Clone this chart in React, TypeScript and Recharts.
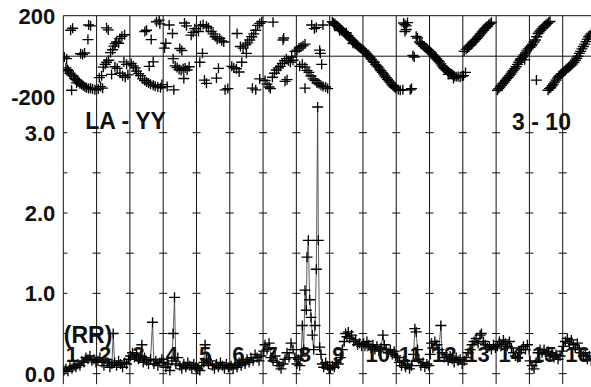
import { ComposedChart, Scatter, Line, XAxis, YAxis, ReferenceLine, ReferenceDot } from 'recharts'

const FONT = '"Liberation Sans", Arial, Helvetica, sans-serif'
const INK = '#111'

// phase in degrees vs time (time in scan units, scan n starts at n-1)
const phasePts: [number, number][] = [
  [0.03, -4], [0.08, -58], [0.12, -66], [0.15, -72], [0.2, -84], [0.24, -92], [0.3, -98], [0.34, -110],
  [0.38, -116], [0.42, -122], [0.47, -128], [0.5, -136], [0.55, -140], [0.6, -146], [0.65, -152], [0.7, -156],
  [0.76, -160], [0.82, -158], [0.88, -162], [0.95, -166], [0.25, -168], [0.22, 128], [0.28, 138], [0.76, 154],
  [0.82, 150], [0.74, 82], [0.52, 12], [0.58, 8], [0.64, 16], [0.1, -12], [0.4, -132],
  [1.05, -162], [1.12, -150], [1.18, -158], [1.08, -106], [1.15, -96], [1.2, -54], [1.26, -40], [1.3, -30],
  [1.36, -20], [1.42, 18], [1.48, 32], [1.52, 50], [1.56, 62], [1.6, 70], [1.66, 64], [1.7, 88], [1.76, 98],
  [1.84, 106], [1.35, 130], [1.3, 140], [1.45, -90], [1.55, -52], [1.62, -60], [1.7, -84], [1.78, -96],
  [1.86, -104], [1.94, -92], [1.82, -28], [1.9, -40],
  [2.04, -36], [2.1, -48], [2.16, -58], [2.2, -74], [2.26, -86], [2.32, -96], [2.38, -112], [2.44, -120],
  [2.5, -128], [2.56, -132], [2.62, -138], [2.7, -144], [2.76, -148], [2.84, -152], [2.92, -156], [2.5, 128],
  [2.45, 122], [2.64, 82], [2.8, 170], [2.88, 178], [2.9, 160], [2.7, -28], [2.58, -50], [2.96, -140],
  [3.08, 64], [3.04, 40], [3.18, 154], [3.28, 112], [3.3, -12], [3.36, -48], [3.42, -56], [3.48, -66],
  [3.54, -70], [3.6, -62], [3.66, -58], [3.72, -68], [3.78, -52], [3.5, 38], [3.56, 28], [3.64, 164],
  [3.7, 150], [3.84, 104], [3.9, 118], [3.95, 136], [3.32, -166], [3.62, -110], [3.12, -150],
  [4.06, 122], [4.12, 150], [4.2, 156], [4.3, 148], [4.36, 140], [4.44, 122], [4.5, 110], [4.56, 96],
  [4.62, 84], [4.7, 88], [4.76, 76], [4.82, 70], [4.18, 14], [4.24, -118], [4.3, -134], [4.66, -60],
  [4.6, -108], [4.86, -166], [4.94, -160], [4.1, -30],
  [5.06, -50], [5.12, -58], [5.2, -62], [5.28, -78], [5.22, 112], [5.32, 48], [5.4, 40], [5.48, 56],
  [5.54, 66], [5.6, 80], [5.66, 96], [5.72, 110], [5.78, 128], [5.84, 152], [5.9, 162], [5.96, 170],
  [5.5, 14], [5.78, -166], [5.68, -158], [5.36, -30], [5.9, -112],
  [6.06, -120], [6.12, -138], [6.18, -152], [6.22, -160], [6.28, -104], [6.34, -84], [6.4, -68], [6.46, -58],
  [6.52, -50], [6.58, -36], [6.64, -22], [6.7, -12], [6.76, -22], [6.82, -30], [6.9, -20], [6.96, 24],
  [6.6, 80], [6.62, 90], [6.3, 168], [6.66, -124], [6.72, -116], [6.86, -4],
  [7.02, 30], [7.08, 40], [7.14, 46], [7.2, 52], [7.26, 60], [7.1, -50], [7.18, -40], [7.26, -54],
  [7.32, -70], [7.38, -80], [7.44, -98], [7.5, -112], [7.56, -120], [7.62, -132], [7.68, -136], [7.74, -144],
  [7.8, -150], [7.88, -152], [7.94, -160], [7.46, 154], [7.54, 136], [7.6, 142], [7.8, 154], [7.72, 14],
  [7.76, -40], [7.26, -158], [7.7, 30],
  [8.08, 170], [8.12, 164], [8.16, 160], [8.2, 152], [8.24, 148], [8.28, 140], [8.32, 134], [8.36, 128],
  [8.4, 122], [8.44, 116], [8.48, 110], [8.52, 104], [8.56, 100], [8.6, 92], [8.64, 84], [8.68, 78],
  [8.72, 70], [8.76, 62], [8.8, 58], [8.84, 52], [8.88, 46], [8.92, 40], [8.96, 36], [8.14, 154],
  [8.3, 126], [8.5, 116], [8.7, 64],
  [9.02, 30], [9.06, 22], [9.1, 14], [9.14, 6], [9.18, 0], [9.22, -8], [9.26, -16], [9.3, -24],
  [9.34, -30], [9.38, -40], [9.42, -48], [9.46, -54], [9.5, -64], [9.54, -72], [9.58, -80], [9.62, -88],
  [9.66, -98], [9.7, -106], [9.74, -114], [9.78, -122], [9.82, -130], [9.86, -138], [9.9, -146], [9.94, -152],
  [9.98, -158], [10.06, -164], [10.12, -168], [10.2, -166], [10.46, -160], [10.42, -166],
  [10.22, 164], [10.26, 156], [10.3, 150], [10.34, 166], [10.26, 122], [10.3, 132], [10.5, 4], [10.54, -4],
  [10.6, 98], [10.64, 90], [10.7, 70], [10.74, 62], [10.78, 58], [10.82, 50], [10.86, 46], [10.9, 40],
  [10.94, 34], [10.98, 28],
  [11.02, 22], [11.06, 16], [11.1, 8], [11.14, 0], [11.18, -8], [11.22, -14], [11.26, -22], [11.3, -28],
  [11.34, -38], [11.38, -48], [11.42, -56], [11.46, -62], [11.5, -68], [11.54, -74], [11.58, -80], [11.62, -84],
  [11.66, -88], [11.7, -92], [11.74, -98], [11.8, -102], [11.86, -100], [11.92, -104], [11.98, -98], [11.56, -90],
  [11.72, -110], [12.02, -96], [12.08, -80],
  [12.04, 24], [12.1, 34], [12.14, 40], [12.18, 48], [12.22, 54], [12.26, 60], [12.3, 68], [12.34, 74],
  [12.38, 82], [12.42, 88], [12.46, 96], [12.5, 104], [12.54, 112], [12.58, 120], [12.62, 128], [12.66, 136],
  [12.7, 142], [12.74, 148], [12.78, 156], [12.82, 162], [12.86, 168],
  [13.04, -168], [13.08, -160], [13.12, -152], [13.16, -144], [13.2, -136], [13.24, -128], [13.28, -120],
  [13.32, -112], [13.36, -104], [13.4, -96], [13.44, -88], [13.48, -78], [13.52, -70], [13.56, -62],
  [13.6, -52], [13.64, -40], [13.68, -30], [13.72, -20], [13.76, -14], [13.8, -4], [13.84, 6], [13.88, 16],
  [13.92, 26], [13.96, 36], [13.74, -12], [13.86, -18],
  [14.02, 44], [14.06, 52], [14.1, 60], [14.14, 70], [14.18, 80], [14.22, 96], [14.26, 112], [14.3, 120],
  [14.34, 128], [14.38, 136], [14.42, 144], [14.46, 150], [14.5, 156], [14.54, 162], [14.58, 168], [14.62, 172],
  [14.21, -118], [14.56, -168], [14.6, -160], [14.64, -156], [14.68, -146], [14.72, -138], [14.76, -128],
  [14.8, -118], [14.84, -108], [14.88, -100], [14.92, -94], [14.96, -86],
  [15.02, -78], [15.06, -72], [15.1, -66], [15.14, -60], [15.18, -54], [15.22, -50], [15.26, -44], [15.3, -38],
  [15.34, -30], [15.38, -20], [15.42, -10], [15.46, 0], [15.5, 14], [15.54, 24], [15.58, 36], [15.62, 48],
  [15.66, 60], [15.7, 72], [15.74, 84], [15.78, 96], [15.82, 104], [15.86, 112], [15.92, 120],
]

// amplitude vs time
const ampPts: [number, number][] = [
  [0.02, 0.04], [0.08, 0.06], [0.14, 0.03], [0.2, 0.08], [0.26, 0.06], [0.32, 0.1], [0.38, 0.08], [0.44, 0.12],
  [0.5, 0.1], [0.56, 0.16], [0.62, 0.14], [0.68, 0.2], [0.74, 0.18], [0.8, 0.22], [0.86, 0.16], [0.92, 0.18],
  [0.98, 0.14],
  [1.04, 0.16], [1.1, 0.2], [1.16, 0.14], [1.22, 0.1], [1.28, 0.18], [1.34, 0.14], [1.4, 0.08], [1.46, 0.12],
  [1.5, 0.5], [1.54, 0.14], [1.6, 0.1], [1.66, 0.16], [1.72, 0.12], [1.78, 0.08], [1.84, 0.14], [1.9, 0.12],
  [1.96, 0.18],
  [2.02, 0.22], [2.08, 0.26], [2.14, 0.2], [2.2, 0.24], [2.26, 0.18], [2.32, 0.22], [2.36, 0.36], [2.4, 0.14],
  [2.44, 0.2], [2.5, 0.16], [2.56, 0.12], [2.62, 0.18], [2.68, 0.64], [2.72, 0.12], [2.78, 0.16], [2.84, 0.1],
  [2.9, 0.14], [2.96, 0.18],
  [3.02, 0.14], [3.08, 0.08], [3.14, 0.12], [3.2, 0.04], [3.26, 0.16], [3.3, 0.5], [3.34, 0.95], [3.38, 0.12],
  [3.44, 0.2], [3.5, 0.1], [3.56, 0.06], [3.62, 0.12], [3.68, 0.08], [3.74, 0.14], [3.8, 0.1], [3.86, 0.06],
  [3.92, 0.12], [3.98, 0.08],
  [4.04, 0.06], [4.1, 0.04], [4.16, 0.1], [4.22, 0.14], [4.26, 0.36], [4.3, 0.18], [4.36, 0.12], [4.42, 0.16],
  [4.48, 0.1], [4.54, 0.06], [4.6, 0.12], [4.66, 0.08], [4.72, 0.14], [4.78, 0.1], [4.84, 0.06], [4.9, 0.12],
  [4.96, 0.08],
  [5.04, 0.1], [5.1, 0.06], [5.16, 0.12], [5.22, 0.08], [5.28, 0.14], [5.34, 0.1], [5.4, 0.16], [5.46, 0.12],
  [5.52, 0.18], [5.58, 0.14], [5.64, 0.2], [5.7, 0.16], [5.76, 0.24], [5.82, 0.2], [5.88, 0.16], [5.94, 0.22],
  [6.02, 0.28], [6.06, 0.36], [6.12, 0.3], [6.18, 0.38], [6.24, 0.2], [6.3, 0.16], [6.36, 0.22], [6.42, 0.14],
  [6.48, 0.1], [6.54, 0.06], [6.6, 0.12], [6.66, 0.18], [6.72, 0.26], [6.78, 0.2], [6.84, 0.38], [6.9, 0.3],
  [6.96, 0.2],
  [7.02, 0.12], [7.06, 0.18], [7.1, 0.1], [7.14, 0.22], [7.18, 0.6], [7.22, 0.3], [7.26, 1.04], [7.3, 0.79],
  [7.32, 1.45], [7.36, 1.66], [7.4, 0.92], [7.44, 0.7], [7.48, 0.48], [7.52, 0.3], [7.56, 0.6], [7.6, 1.3],
  [7.64, 3.32], [7.66, 1.66], [7.7, 0.33], [7.74, 0.24], [7.78, 0.12], [7.82, 0.08], [7.88, 0.14], [7.94, 0.1],
  [7.98, 0.06],
  [8.02, 0.06], [8.08, 0.1], [8.14, 0.08], [8.2, 0.14], [8.26, 0.12], [8.32, 0.2], [8.38, 0.3], [8.44, 0.4],
  [8.48, 0.5], [8.52, 0.46], [8.56, 0.52], [8.6, 0.44], [8.66, 0.48], [8.72, 0.4], [8.78, 0.42], [8.84, 0.36],
  [8.9, 0.38], [8.96, 0.34],
  [9.02, 0.38], [9.06, 0.34], [9.12, 0.4], [9.18, 0.36], [9.24, 0.32], [9.3, 0.36], [9.36, 0.3], [9.42, 0.34],
  [9.48, 0.28], [9.54, 0.32], [9.6, 0.48], [9.64, 0.36], [9.7, 0.3], [9.76, 0.26], [9.82, 0.3], [9.88, 0.24],
  [9.94, 0.28], [9.98, 0.22],
  [10.04, 0.2], [10.1, 0.14], [10.16, 0.1], [10.22, 0.16], [10.28, 0.08], [10.34, 0.12], [10.4, 0.06], [10.46, 0.1],
  [10.52, 0.24], [10.56, 0.56], [10.6, 0.52], [10.64, 0.3], [10.68, 0.18], [10.74, 0.1], [10.8, 0.14], [10.86, 0.08],
  [10.92, 0.12], [10.98, 0.1],
  [11.02, 0.24], [11.06, 0.38], [11.1, 0.32], [11.16, 0.4], [11.22, 0.36], [11.28, 0.3], [11.34, 0.6], [11.38, 0.26],
  [11.44, 0.2], [11.5, 0.24], [11.56, 0.16], [11.62, 0.22], [11.68, 0.18], [11.74, 0.14], [11.8, 0.2], [11.86, 0.16],
  [11.92, 0.18], [11.98, 0.12],
  [12.04, 0.16], [12.1, 0.2], [12.16, 0.26], [12.22, 0.3], [12.28, 0.36], [12.34, 0.4], [12.4, 0.44], [12.46, 0.38],
  [12.52, 0.48], [12.56, 0.5], [12.62, 0.4], [12.68, 0.36], [12.74, 0.32], [12.8, 0.34], [12.86, 0.3], [12.92, 0.36],
  [12.98, 0.32],
  [13.04, 0.34], [13.1, 0.4], [13.16, 0.36], [13.22, 0.42], [13.28, 0.38], [13.34, 0.34], [13.4, 0.4], [13.46, 0.32],
  [13.52, 0.26], [13.58, 0.22], [13.64, 0.2], [13.7, 0.26], [13.76, 0.3], [13.82, 0.34], [13.88, 0.3], [13.94, 0.36],
  [14.02, 0.16], [14.08, 0.1], [14.14, 0.06], [14.2, 0.14], [14.26, 0.26], [14.32, 0.3], [14.38, 0.26], [14.44, 0.3],
  [14.5, 0.24], [14.56, 0.28], [14.62, 0.22], [14.68, 0.26], [14.74, 0.2], [14.8, 0.24], [14.86, 0.18], [14.92, 0.22],
  [14.98, 0.28],
  [15.02, 0.34], [15.08, 0.4], [15.14, 0.44], [15.2, 0.38], [15.26, 0.42], [15.32, 0.36], [15.38, 0.32], [15.44, 0.38],
  [15.5, 0.3], [15.56, 0.26], [15.62, 0.22], [15.68, 0.26], [15.74, 0.18], [15.8, 0.22], [15.86, 0.16],
]

const phaseTicks = [-200, 200]
const ampTicks = [0, 1, 2, 3]
const ampMarkLevels = [0, 0.5, 1, 1.5, 2, 2.5, 3]
const scanLabels = ['1', '2', '3', '4', '5', '6', '7', '8', '9', '10', '11', '12', '13', '14', '15', '16']
const baselineLabel = 'LA - YY'
const pairLabel = '3 - 10'
const polLabel = '(RR)'

const phaseData = phasePts.map(([t, deg]) => ({ t, deg }))
const ampData = ampPts.map(([t, amp]) => ({ t, amp }))
const minorTicks = Array.from({ length: 65 }, (_, i) => i / 4)
const scanStarts = scanLabels.map((_, i) => i)

const W = 640
const PLOT_L = 63.3
const PLOT_R = 596
const MARK = 0.12

function Cross({ cx, cy }: { cx?: number; cy?: number }) {
  if (cx == null || cy == null || isNaN(cx) || isNaN(cy)) return <g />
  return (
    <path
      d={`M${cx - 5.5},${cy}H${cx + 5.5}M${cx},${cy - 5}V${cy + 5}`}
      stroke="#000"
      strokeWidth={1.35}
      fill="none"
    />
  )
}

function makeTick(fmt: (v: number) => string) {
  return (p: any) => (
    <text
      x={p.x}
      y={p.y}
      dy="0.36em"
      textAnchor="end"
      fill={INK}
      fontSize={22}
      fontWeight={700}
      fontFamily={FONT}
    >
      {fmt(p.payload.value)}
    </text>
  )
}

// bold annotation drawn to the right of a reference dot
function annot(text: string, offset: number, size: number) {
  return (p: any) => {
    const vb = p.viewBox || {}
    return (
      <text
        x={(vb.x ?? 0) + offset}
        y={vb.y ?? 0}
        dy="0.36em"
        textAnchor="start"
        fill={INK}
        fontSize={size}
        fontWeight={700}
        fontFamily={FONT}
      >
        {text}
      </text>
    )
  }
}

function PhasePanel() {
  return (
    <ComposedChart
      width={W}
      height={120}
      data={phaseData}
      margin={{ top: 15.7, right: W - PLOT_R, bottom: 23.3, left: 0 }}
    >
      <XAxis
        xAxisId="p"
        type="number"
        dataKey="t"
        domain={[0, 16]}
        ticks={minorTicks}
        interval={0}
        orientation="bottom"
        mirror
        height={0}
        tick={false}
        tickSize={3}
        stroke={INK}
        allowDataOverflow
      />
      <YAxis
        type="number"
        dataKey="deg"
        domain={[-200, 200]}
        ticks={phaseTicks}
        interval={0}
        width={PLOT_L}
        tickLine={false}
        tick={makeTick(v => String(v))}
        stroke={INK}
        allowDataOverflow
      />
      {scanStarts.slice(1).map(i => (
        <ReferenceLine key={i} xAxisId="p" x={i} stroke={INK} />
      ))}
      <ReferenceLine xAxisId="p" y={0} stroke={INK} />
      <ReferenceLine xAxisId="p" y={200} stroke={INK} />
      <Scatter
        xAxisId="p"
        data={phaseData}
        dataKey="deg"
        shape={(p: any) => <Cross cx={p.cx} cy={p.cy} />}
        isAnimationActive={false}
      />
    </ComposedChart>
  )
}

function AmpPanel() {
  return (
    <ComposedChart
      width={W}
      height={387}
      data={ampData}
      margin={{ top: 96.7, right: W - PLOT_R, bottom: 2.8, left: 0 }}
    >
      <XAxis
        xAxisId="b"
        type="number"
        dataKey="t"
        domain={[0, 16]}
        ticks={minorTicks}
        interval={0}
        orientation="bottom"
        mirror
        height={0}
        tick={false}
        tickSize={4}
        stroke={INK}
        allowDataOverflow
      />
      <XAxis
        xAxisId="t"
        type="number"
        dataKey="t"
        domain={[0, 16]}
        ticks={minorTicks}
        interval={0}
        orientation="top"
        mirror
        height={0}
        tick={false}
        tickSize={5}
        stroke={INK}
        allowDataOverflow
      />
      <YAxis
        type="number"
        dataKey="amp"
        domain={[-0.131, 3.448]}
        ticks={ampTicks}
        interval={0}
        width={PLOT_L}
        tickLine={false}
        tick={makeTick(v => v.toFixed(1))}
        stroke={INK}
        allowDataOverflow
      />
      {scanStarts.slice(1).map(i => (
        <ReferenceLine key={i} xAxisId="b" x={i} stroke={INK} />
      ))}
      {scanStarts.flatMap(i =>
        ampMarkLevels.map(lv => (
          <ReferenceLine
            key={`m${i}-${lv}`}
            xAxisId="b"
            segment={[{ x: Math.max(0, i - MARK), y: lv }, { x: i + MARK, y: lv }]}
            stroke={INK}
          />
        ))
      )}
      <Line
        xAxisId="b"
        type="linear"
        dataKey="amp"
        stroke="#333"
        strokeWidth={0.8}
        dot={(p: any) => <Cross key={`a${p.index}`} cx={p.cx} cy={p.cy} />}
        activeDot={false}
        isAnimationActive={false}
      />
      <ReferenceDot xAxisId="b" x={0} y={3.15} r={0} fill="none" stroke="none" label={annot(baselineLabel, 22, 23)} />
      <ReferenceDot xAxisId="b" x={13} y={3.14} r={0} fill="none" stroke="none" label={annot(pairLabel, 16, 23)} />
      <ReferenceDot xAxisId="b" x={0} y={0.49} r={0} fill="none" stroke="none" label={annot(polLabel, 0.5, 23)} />
      {scanLabels.map((s, i) => (
        <ReferenceDot
          key={s}
          xAxisId="b"
          x={scanStarts[i]}
          y={0.24}
          r={0}
          fill="none"
          stroke="none"
          label={annot(s, 2.5, 22)}
        />
      ))}
    </ComposedChart>
  )
}

export default function App() {
  return (
    <div
      style={{
        position: 'fixed',
        left: 0,
        top: 0,
        width: 591,
        height: 387,
        overflow: 'hidden',
        background: '#fff',
        fontFamily: FONT,
      }}
    >
      <div style={{ position: 'absolute', left: 0, top: 0 }}>
        <PhasePanel />
      </div>
      <div style={{ position: 'absolute', left: 0, top: 0 }}>
        <AmpPanel />
      </div>
    </div>
  )
}
